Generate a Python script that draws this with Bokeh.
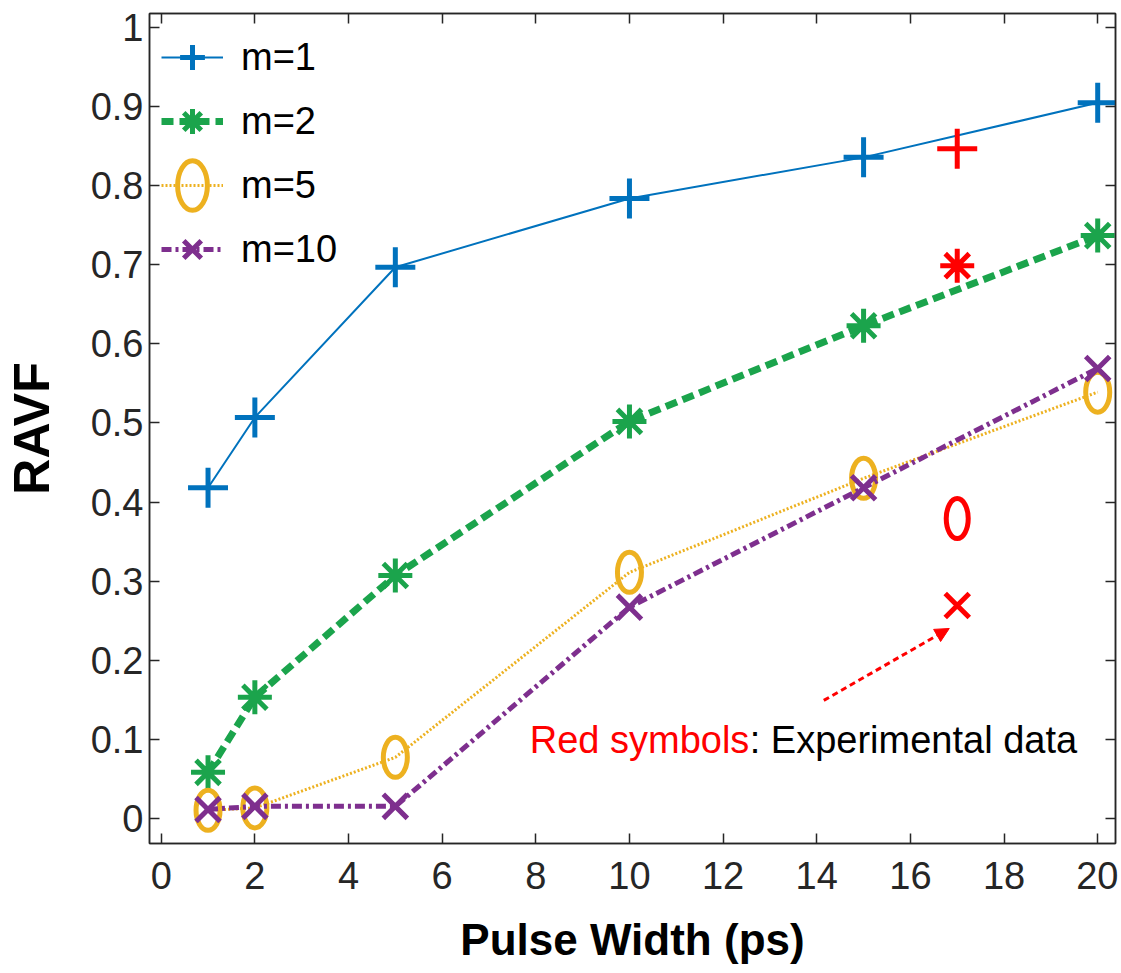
from bokeh.plotting import figure
from bokeh.models import (Range1d, LinearAxis, FixedTicker, CustomJSTickFormatter,
                          Legend, LegendItem, Label, Arrow, NormalHead)
from bokeh.embed import file_html
from bokeh.resources import INLINE

# ---- data ----
pulse_width = [1, 2, 5, 10, 15, 20]
ravf_m1 = [0.418, 0.507, 0.697, 0.784, 0.836, 0.905]
ravf_m2 = [0.058, 0.153, 0.307, 0.502, 0.623, 0.737]
ravf_m5 = [0.010, 0.013, 0.077, 0.311, 0.430, 0.539]
ravf_m10 = [0.011, 0.015, 0.015, 0.267, 0.418, 0.569]

exp_x = [17]
exp_m1 = [0.847]
exp_m2 = [0.699]
exp_m5 = [0.379]
exp_m10 = [0.269]

x_ticks = [0, 2, 4, 6, 8, 10, 12, 14, 16, 18, 20]
y_ticks = [0, 0.1, 0.2, 0.3, 0.4, 0.5, 0.6, 0.7, 0.8, 0.9, 1.0]
y_tick_labels = {0: "0", 0.1: "0.1", 0.2: "0.2", 0.3: "0.3", 0.4: "0.4", 0.5: "0.5",
                 0.6: "0.6", 0.7: "0.7", 0.8: "0.8", 0.9: "0.9", 1.0: "1"}

BLUE = "#0072BD"
GREEN = "#1BA44C"
ORANGE = "#EDB120"
PURPLE = "#7E2F8E"
RED = "#FF0000"
AXC = "#262626"
FONT = "Liberation Sans"

p = figure(width=1118, height=968, output_backend="svg", toolbar_location=None,
           x_range=Range1d(-0.25, 20.38), y_range=Range1d(-0.032, 1.018),
           min_border_left=145, min_border_right=3, min_border_top=13, min_border_bottom=125)
p.xgrid.visible = False
p.ygrid.visible = False
p.outline_line_color = AXC
p.outline_line_width = 1.5
p.background_fill_color = "white"

for ax in (p.xaxis[0], p.yaxis[0]):
    ax.major_tick_in = 10
    ax.major_tick_out = 0
    ax.minor_tick_line_color = None
    ax.axis_line_color = AXC
    ax.axis_line_width = 1.5
    ax.major_tick_line_color = AXC
    ax.major_tick_line_width = 1.5
    ax.major_label_text_font = FONT
    ax.major_label_text_font_size = "38px"
    ax.major_label_text_color = AXC

p.xaxis[0].ticker = FixedTicker(ticks=x_ticks)
p.yaxis[0].ticker = FixedTicker(ticks=y_ticks)
p.yaxis[0].major_label_overrides = y_tick_labels
p.xaxis[0].major_label_standoff = 18
p.yaxis[0].major_label_standoff = 6

p.yaxis[0].axis_label = "RAVF"
p.yaxis[0].axis_label_text_font = FONT
p.yaxis[0].axis_label_text_font_size = "50px"
p.yaxis[0].axis_label_text_font_style = "bold"
p.yaxis[0].axis_label_text_color = "black"
p.yaxis[0].axis_label_standoff = 28

p.xaxis[0].axis_label = "Pulse Width (ps)"
p.xaxis[0].axis_label_text_font = FONT
p.xaxis[0].axis_label_text_font_size = "44px"
p.xaxis[0].axis_label_text_font_style = "bold"
p.xaxis[0].axis_label_text_color = "black"
p.xaxis[0].axis_label_standoff = 23

empty = CustomJSTickFormatter(code="return ''")
top = LinearAxis(ticker=FixedTicker(ticks=x_ticks), formatter=empty,
                 major_tick_in=10, major_tick_out=0, minor_tick_line_color=None,
                 major_label_standoff=0, axis_line_color=AXC, axis_line_width=1.5,
                 major_tick_line_color=AXC, major_tick_line_width=1.5)
right = LinearAxis(ticker=FixedTicker(ticks=y_ticks), formatter=empty,
                   major_tick_in=10, major_tick_out=0, minor_tick_line_color=None,
                   major_label_standoff=0, axis_line_color=AXC, axis_line_width=1.5,
                   major_tick_line_color=AXC, major_tick_line_width=1.5)
p.add_layout(top, "above")
p.add_layout(right, "right")

# ---- series ----
l1 = p.line(pulse_width, ravf_m1, line_color=BLUE, line_width=2)
s1 = p.scatter(pulse_width, ravf_m1, marker="cross", size=40, line_color=BLUE, line_width=5)

l2 = p.line(pulse_width, ravf_m2, line_color=GREEN, line_width=7, line_dash="12 6")
s2 = p.scatter(pulse_width, ravf_m2, marker="asterisk", size=34, line_color=GREEN, line_width=5)

l5 = p.line(pulse_width, ravf_m5, line_color=ORANGE, line_width=3, line_dash="2 2")
s5 = p.ellipse(pulse_width, ravf_m5, width=24, height=40, width_units="screen",
               height_units="screen", fill_color=None, line_color=ORANGE, line_width=5)

l10 = p.line(pulse_width, ravf_m10, line_color=PURPLE, line_width=5, line_dash="10 4 3 4")
s10 = p.scatter(pulse_width, ravf_m10, marker="x", size=34, line_color=PURPLE, line_width=5)

# experimental (red)
p.scatter(exp_x, exp_m1, marker="cross", size=40, line_color=RED, line_width=5)
p.scatter(exp_x, exp_m2, marker="asterisk", size=34, line_color=RED, line_width=5)
p.ellipse(exp_x, exp_m5, width=22, height=40, width_units="screen", height_units="screen",
          fill_color=None, line_color=RED, line_width=5)
p.scatter(exp_x, exp_m10, marker="x", size=34, line_color=RED, line_width=5)

# arrow + annotation text
p.add_layout(Arrow(x_start=14.15, y_start=0.149, x_end=16.83, y_end=0.240,
                   line_color=RED, line_width=3, line_dash="6 4",
                   end=NormalHead(size=14, fill_color=RED, line_color=RED, line_width=1)))
p.add_layout(Label(x=7.87, y=0.099, text="Red symbols", text_color=RED,
                   text_font=FONT, text_font_size="38px", text_baseline="middle"))
p.add_layout(Label(x=7.87, y=0.099, x_offset=220, text=": Experimental data",
                   text_color="black", text_font=FONT, text_font_size="38px",
                   text_baseline="middle"))

legend = Legend(items=[
    LegendItem(label="m=1", renderers=[l1, s1]),
    LegendItem(label="m=2", renderers=[l2, s2]),
    LegendItem(label="m=5", renderers=[l5, s5]),
    LegendItem(label="m=10", renderers=[l10, s10]),
], location="top_left", glyph_width=62, glyph_height=64, spacing=0, label_standoff=18,
    label_text_font=FONT, label_text_font_size="38px", label_text_color="black",
    margin=12, padding=6, border_line_color=None, background_fill_alpha=0)
p.add_layout(legend)

open("out.html", "w").write(file_html(p, INLINE))
